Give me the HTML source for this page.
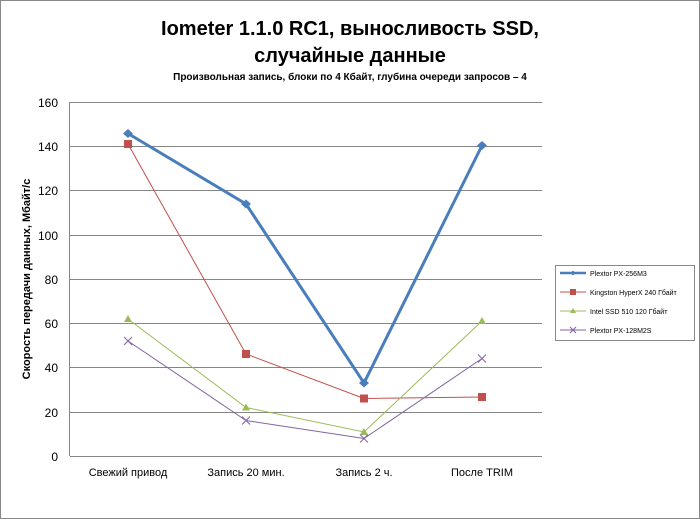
<!DOCTYPE html>
<html><head><meta charset="utf-8"><style>body{margin:0;background:#fff}</style></head><body>
<svg width="700" height="519" xmlns="http://www.w3.org/2000/svg" font-family="Liberation Sans, sans-serif">
<rect x="0.5" y="0.5" width="699" height="518" fill="#fff" stroke="#888"/>
<text x="350" y="35" text-anchor="middle" font-size="20" font-weight="bold">Iometer 1.1.0 RC1, выносливость SSD,</text>
<text x="350" y="62" text-anchor="middle" font-size="20" font-weight="bold">случайные данные</text>
<text x="350" y="80" text-anchor="middle" font-size="10" font-weight="bold">Произвольная  запись, блоки по 4 Кбайт, глубина очереди запросов – 4</text>
<g stroke="#868686" stroke-width="1">
<line x1="70" y1="102.5" x2="542" y2="102.5"/>
<line x1="70" y1="146.5" x2="542" y2="146.5"/>
<line x1="70" y1="190.5" x2="542" y2="190.5"/>
<line x1="70" y1="235.5" x2="542" y2="235.5"/>
<line x1="70" y1="279.5" x2="542" y2="279.5"/>
<line x1="70" y1="323.5" x2="542" y2="323.5"/>
<line x1="70" y1="367.5" x2="542" y2="367.5"/>
<line x1="70" y1="412.5" x2="542" y2="412.5"/>
<line x1="70" y1="456.5" x2="542" y2="456.5"/>
<line x1="69.5" y1="102" x2="69.5" y2="456"/>
</g>
<g font-size="12" text-anchor="end">
<text x="58" y="107">160</text><text x="58" y="151">140</text><text x="58" y="195">120</text><text x="58" y="240">100</text><text x="58" y="284">80</text><text x="58" y="328">60</text><text x="58" y="372">40</text><text x="58" y="417">20</text><text x="58" y="461">0</text>
</g>
<g font-size="11" text-anchor="middle">
<text x="128" y="476">Свежий  привод</text><text x="246" y="476">Запись 20 мин.</text><text x="364" y="476">Запись 2 ч.</text><text x="482" y="476">После TRIM</text>
</g>
<text transform="translate(30,279) rotate(-90)" text-anchor="middle" font-size="11" font-weight="bold">Скорость  передачи данных, Мбайт/с</text>
<polyline points="128,133.5 246,204 364,383 482,145.5" fill="none" stroke="#4a7ebb" stroke-width="3"/>
<g fill="#4a7ebb"><path d="M128,129 l5,4.5 -5,4.5 -5,-4.5z"/><path d="M246,199.5 l5,4.5 -5,4.5 -5,-4.5z"/><path d="M364,378.5 l5,4.5 -5,4.5 -5,-4.5z"/><path d="M482,141 l5,4.5 -5,4.5 -5,-4.5z"/></g>
<polyline points="128,144 246,354 364,398.5 482,397" fill="none" stroke="#c0504d" stroke-width="1"/>
<g fill="#c0504d"><rect x="124" y="140" width="8" height="8"/><rect x="242" y="350" width="8" height="8"/><rect x="360" y="394.5" width="8" height="8"/><rect x="478" y="393" width="8" height="8"/></g>
<polyline points="128,319 246,407.5 364,432 482,321" fill="none" stroke="#9bbb59" stroke-width="1"/>
<g fill="#9bbb59"><path d="M128,315 l4,7 -8,0z"/><path d="M246,403.5 l4,7 -8,0z"/><path d="M364,428 l4,7 -8,0z"/><path d="M482,317 l4,7 -8,0z"/></g>
<polyline points="128,341 246,420.5 364,438.5 482,358.5" fill="none" stroke="#8064a2" stroke-width="1"/>
<g stroke="#8064a2" stroke-width="1"><path d="M124,337l8,8M132,337l-8,8"/><path d="M242,416.5l8,8M250,416.5l-8,8"/><path d="M360,434.5l8,8M368,434.5l-8,8"/><path d="M478,354.5l8,8M486,354.5l-8,8"/></g>
<rect x="555.5" y="265.5" width="139" height="75" fill="#fff" stroke="#888"/>
<g font-size="7">
<line x1="560" y1="273" x2="586" y2="273" stroke="#4a7ebb" stroke-width="2.5"/><path d="M573,270.5l2.5,2.5-2.5,2.5-2.5,-2.5z" fill="#4a7ebb"/><text x="590" y="276">Plextor PX-256M3</text>
<line x1="560" y1="292" x2="586" y2="292" stroke="#c0504d"/><rect x="570" y="289" width="6" height="6" fill="#c0504d"/><text x="590" y="295">Kingston HyperX 240 Гбайт</text>
<line x1="560" y1="311" x2="586" y2="311" stroke="#9bbb59"/><path d="M573,308l3,5-6,0z" fill="#9bbb59"/><text x="590" y="314">Intel SSD 510 120 Гбайт</text>
<line x1="560" y1="330" x2="586" y2="330" stroke="#8064a2"/><path d="M570,327l6,6M576,327l-6,6" stroke="#8064a2"/><text x="590" y="333">Plextor PX-128M2S</text>
</g>
</svg>
</body></html>
